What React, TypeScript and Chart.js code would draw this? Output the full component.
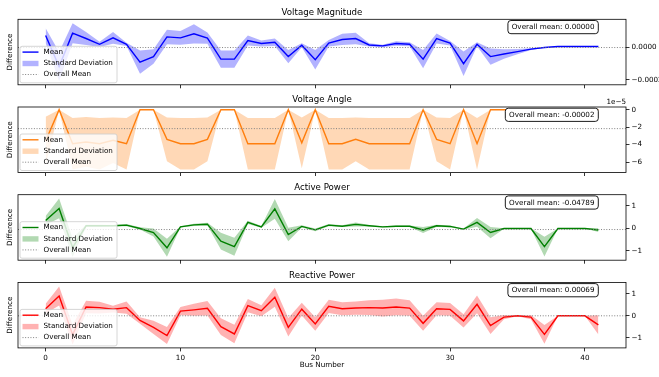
import React, { useEffect, useRef } from 'react';
import { Chart, registerables } from 'chart.js';

Chart.register(...registerables);

const W = 659;
const H = 377;
const FONT = "'DejaVu Sans', sans-serif";

// ---------------- data ----------------
const buses = [0, 1, 2, 3, 4, 5, 6, 7, 8, 9, 10, 11, 12, 13, 14, 15, 16, 17, 18, 19, 20,
  21, 22, 23, 24, 25, 26, 27, 28, 29, 30, 31, 32, 33, 34, 35, 36, 37, 38, 39, 40, 41];

const titles = ['Voltage Magnitude', 'Voltage Angle', 'Active Power', 'Reactive Power'];

const vmMean = [7.4e-5, -1.18e-4, 8.9e-5, 5.6e-5, 2.0e-5, 6.0e-5, 2.0e-5, -9.0e-5, -5.6e-5, 6.6e-5,
  6.0e-5, 8.5e-5, 5.8e-5, -7.2e-5, -7.2e-5, 4.3e-5, 2.5e-5, 3.3e-5, -5.6e-5, 1.4e-5,
  -7.6e-5, 2.7e-5, 5.0e-5, 5.6e-5, 1.6e-5, 1.0e-5, 2.5e-5, 2.0e-5, -7.2e-5, 5.6e-5,
  2.7e-5, -1.0e-4, 2.0e-5, -5.6e-5, -4.0e-5, -2.5e-5, -1.0e-5, 0, 6e-6, 6e-6, 6e-6, 6e-6];
const vmStd = [4.6e-5, 9.0e-5, 6.2e-5, 4.0e-5, 1.6e-5, 3.7e-5, 1.0e-5, 7.2e-5, 4.5e-5, 4.5e-5,
  4.3e-5, 6.0e-5, 3.5e-5, 5.4e-5, 5.4e-5, 3.1e-5, 1.9e-5, 2.3e-5, 4.1e-5, 1.2e-5,
  6.0e-5, 2.0e-5, 3.5e-5, 3.5e-5, 1.0e-5, 8e-6, 1.4e-5, 1.2e-5, 5.6e-5, 3.1e-5,
  1.4e-5, 7.6e-5, 1.2e-5, 5.0e-5, 3.0e-5, 1.6e-5, 6e-6, 2e-6, 2e-6, 2e-6, 2e-6, 2e-6];

const vaMean = [-3.6e-5, 0, -3.9e-5, -3.7e-5, -3.9e-5, -3.5e-5, -3.9e-5, 0, 0, -3.4e-5,
  -3.9e-5, -3.9e-5, -3.4e-5, 0, 0, -3.9e-5, -3.9e-5, -3.9e-5, 0, -3.8e-5,
  0, -3.9e-5, -3.9e-5, -3.4e-5, -3.9e-5, -3.9e-5, -3.9e-5, -3.9e-5, 0, -3.4e-5,
  -3.9e-5, 0, -3.9e-5, 0, 0, 0, 0, 0, 0, 0, 0, 0];
const vaStd = [2.8e-5, 0, 2.95e-5, 2.85e-5, 2.95e-5, 2.6e-5, 2.95e-5, 0, 0, 2.5e-5,
  2.95e-5, 2.95e-5, 2.5e-5, 0, 0, 2.95e-5, 2.95e-5, 2.95e-5, 0, 2.9e-5,
  0, 2.95e-5, 2.95e-5, 2.5e-5, 2.95e-5, 2.95e-5, 2.95e-5, 2.95e-5, 0, 2.5e-5,
  2.95e-5, 0, 2.95e-5, 0, 0, 0, 0, 0, 0, 0, 0, 0];

const apMean = [0.35, 0.89, -0.85, 0.12, 0.12, 0.12, 0.15, 0, -0.18, -0.86,
  0.07, 0.16, 0.19, -0.56, -0.81, 0.27, 0.07, 0.87, -0.27, 0.09,
  -0.06, 0.15, 0.1, 0.18, 0.12, 0.07, 0.1, 0.1, -0.07, 0.12,
  0.09, -0.03, 0.27, -0.18, 0, 0, 0, -0.81, 0, 0, 0, -0.07];
const apStd = [0.2, 0.44, 0.42, 0.05, 0.05, 0.03, 0.05, 0.05, 0.18, 0.4,
  0.03, 0.05, 0.06, 0.37, 0.4, 0.07, 0.04, 0.44, 0.3, 0.05,
  0.06, 0.05, 0.04, 0.09, 0.03, 0.03, 0.03, 0.03, 0.13, 0.05,
  0.04, 0.03, 0.19, 0.25, 0.01, 0.01, 0.01, 0.44, 0, 0, 0, 0.09];

const rpMean = [0.32, 0.9, -0.85, 0.4, 0.37, 0.3, 0.37, -0.21, -0.52, -0.89,
  0.21, 0.27, 0.34, -0.49, -0.82, 0.46, 0.23, 0.84, -0.52, 0.3,
  -0.37, 0.43, 0.32, 0.35, 0.37, 0.35, 0.4, 0.35, -0.34, 0.32,
  0.29, -0.23, 0.52, -0.44, -0.06, 0, -0.06, -0.84, 0, 0, 0, -0.41];
const rpStd = [0.22, 0.43, 0.45, 0.28, 0.27, 0.15, 0.28, 0.15, 0.3, 0.38,
  0.19, 0.27, 0.33, 0.38, 0.42, 0.3, 0.25, 0.43, 0.42, 0.29,
  0.3, 0.3, 0.29, 0.3, 0.33, 0.38, 0.38, 0.35, 0.34, 0.29,
  0.29, 0.3, 0.4, 0.38, 0.1, 0.02, 0.1, 0.42, 0, 0, 0, 0.43];

const overallMeans = [0, -2.17e-5, -0.04789, 0.00069];

const xTicks = [0, 10, 20, 30, 40];
const yTicksVM = [-0.0002, 0];
const yTicksVA = [-6e-5, -4e-5, -2e-5, 0];
const yTicksAP = [-1, 0, 1];
const yTicksRP = [-1, 0, 1];

// ---------------- styling ----------------
const means = [vmMean, vaMean, apMean, rpMean];
const stds = [vmStd, vaStd, apStd, rpStd];
const yTicks = [yTicksVM, yTicksVA, yTicksAP, yTicksRP];
const yMins = [-2.31e-4, -7.2e-5, -1.41, -1.45];
const yMaxs = [1.75e-4, 0.31e-5, 1.5, 1.51];
const tickScale = [1, 1e-5, 1, 1];
const tickDec = [4, 0, 0, 0];
const colors = ['#0000ff', '#ff7f0e', '#008000', '#ff0000'];
const fills = ['rgba(0,0,255,0.3)', 'rgba(255,127,14,0.3)', 'rgba(0,128,0,0.3)', 'rgba(255,0,0,0.3)'];

const PLOT_LEFT = 18;
const Y_AXIS_W = 33;
const PLOT_H = 65.5;
const plotTop = (p: number) => 19.3 + 87.7 * p;

function fmtTick(v: number, p: number) {
  const s = (v / tickScale[p]).toFixed(tickDec[p]);
  const n = parseFloat(s);
  if (n === 0) return (0).toFixed(tickDec[p]);
  return s.replace('-', '\u2212');
}

function roundRect(ctx: CanvasRenderingContext2D, x: number, y: number, w: number, h: number, r: number) {
  ctx.beginPath();
  ctx.moveTo(x + r, y);
  ctx.lineTo(x + w - r, y);
  ctx.arcTo(x + w, y, x + w, y + r, r);
  ctx.lineTo(x + w, y + h - r);
  ctx.arcTo(x + w, y + h, x + w - r, y + h, r);
  ctx.lineTo(x + r, y + h);
  ctx.arcTo(x, y + h, x, y + h - r, r);
  ctx.lineTo(x, y + r);
  ctx.arcTo(x, y, x + r, y, r);
  ctx.closePath();
}

function makeConfig(p: number): any {
  const mean = means[p];
  const std = stds[p];
  const isLast = p === 3;
  const xh = isLast ? 30 : 5;
  const top = plotTop(p);
  const bottom = top + PLOT_H;

  const deco = {
    id: 'deco' + p,
    afterDatasetsDraw(chart: any) {
      const ctx = chart.ctx as CanvasRenderingContext2D;
      const ca = chart.chartArea;
      const y = chart.scales.y.getPixelForValue(overallMeans[p]);
      ctx.save();
      ctx.beginPath();
      ctx.rect(ca.left, ca.top, ca.right - ca.left, ca.bottom - ca.top);
      ctx.clip();
      ctx.strokeStyle = '#808080';
      ctx.lineWidth = 1;
      ctx.setLineDash([1, 1.65]);
      ctx.beginPath();
      ctx.moveTo(ca.left, y);
      ctx.lineTo(ca.right, y);
      ctx.stroke();
      ctx.restore();
    },
    afterDraw(chart: any) {
      const ctx = chart.ctx as CanvasRenderingContext2D;
      const ca = chart.chartArea;
      ctx.save();
      // spines
      ctx.strokeStyle = '#000';
      ctx.lineWidth = 0.8;
      ctx.strokeRect(ca.left, ca.top, ca.right - ca.left, ca.bottom - ca.top);

      // title
      ctx.fillStyle = '#000';
      ctx.textAlign = 'center';
      ctx.textBaseline = 'middle';
      ctx.font = `8.64px ${FONT}`;
      ctx.fillText(titles[p], (ca.left + ca.right) / 2, ca.top - 7);

      // y label
      ctx.font = `7.2px ${FONT}`;
      ctx.save();
      ctx.translate(10, (ca.top + ca.bottom) / 2);
      ctx.rotate(-Math.PI / 2);
      ctx.fillText('Difference', 0, 0);
      ctx.restore();

      // x label
      if (isLast) {
        ctx.fillText('Bus Number', (ca.left + ca.right) / 2, 365.5);
      }

      // offset text for angle panel
      if (p === 1) {
        ctx.textAlign = 'right';
        ctx.fillText('1e\u22125', ca.right, ca.top - 5);
      }

      // legend
      const bw = 97;
      const bh = 36.5;
      const bx = ca.left + 2;
      const by = ca.bottom - 2 - bh;
      roundRect(ctx, bx, by, bw, bh, 2);
      ctx.fillStyle = 'rgba(255,255,255,0.8)';
      ctx.fill();
      ctx.strokeStyle = '#cccccc';
      ctx.lineWidth = 0.8;
      ctx.stroke();
      const rows = [by + 5.8, by + 17.2, by + 28.2];
      const hx0 = bx + 2.5;
      const hx1 = bx + 18.5;
      const tx = bx + 23.5;
      // mean handle
      ctx.strokeStyle = colors[p];
      ctx.lineWidth = 1.4;
      ctx.beginPath();
      ctx.moveTo(hx0, rows[0]);
      ctx.lineTo(hx1, rows[0]);
      ctx.stroke();
      // std handle
      ctx.fillStyle = fills[p];
      ctx.fillRect(hx0, rows[1] - 2.7, hx1 - hx0, 5.4);
      // overall mean handle
      ctx.strokeStyle = '#808080';
      ctx.lineWidth = 1;
      ctx.setLineDash([1, 1.65]);
      ctx.beginPath();
      ctx.moveTo(hx0, rows[2]);
      ctx.lineTo(hx1, rows[2]);
      ctx.stroke();
      ctx.setLineDash([]);
      ctx.fillStyle = '#000';
      ctx.textAlign = 'left';
      ctx.textBaseline = 'middle';
      ctx.font = `7.2px ${FONT}`;
      ctx.fillText('Mean', tx, rows[0]);
      ctx.fillText('Standard Deviation', tx, rows[1]);
      ctx.fillText('Overall Mean', tx, rows[2]);

      // annotation box
      const text = 'Overall mean: ' + overallMeans[p].toFixed(5);
      const tw = ctx.measureText(text).width;
      const padX = 3.8;
      const right = ca.right - 27.7;
      const atop = ca.top + 1.2;
      const ah = 13.2;
      const left = right - tw - 2 * padX;
      roundRect(ctx, left, atop, right - left, ah, 3);
      ctx.fillStyle = '#ffffff';
      ctx.fill();
      ctx.strokeStyle = '#000';
      ctx.lineWidth = 0.9;
      ctx.stroke();
      ctx.fillStyle = '#000';
      ctx.fillText(text, left + padX, atop + ah / 2 + 0.3);
      ctx.restore();
    },
  };

  return {
    type: 'line',
    data: {
      datasets: [
        {
          label: 'Standard Deviation',
          data: buses.map((b, i) => ({ x: b, y: mean[i] + std[i] })),
          borderColor: 'rgba(0,0,0,0)',
          borderWidth: 0,
          pointRadius: 0,
          backgroundColor: fills[p],
          fill: '+1',
          tension: 0,
          order: 3,
        },
        {
          label: 'lower',
          data: buses.map((b, i) => ({ x: b, y: mean[i] - std[i] })),
          borderColor: 'rgba(0,0,0,0)',
          borderWidth: 0,
          pointRadius: 0,
          fill: false,
          tension: 0,
          order: 2,
        },
        {
          label: 'Mean',
          data: buses.map((b, i) => ({ x: b, y: mean[i] })),
          borderColor: colors[p],
          borderWidth: 1.4,
          pointRadius: 0,
          fill: false,
          tension: 0,
          order: 1,
        },
      ],
    },
    options: {
      responsive: false,
      animation: false,
      devicePixelRatio: 1,
      events: [],
      layout: {
        padding: { left: PLOT_LEFT, right: 0, top: top, bottom: H - bottom - xh },
      },
      plugins: {
        legend: { display: false },
        title: { display: false },
        tooltip: { enabled: false },
      },
      scales: {
        x: {
          type: 'linear',
          position: 'bottom',
          min: -2.05,
          max: 43.05,
          afterBuildTicks: (scale: any) => {
            scale.ticks = xTicks.map((v) => ({ value: v }));
          },
          afterFit: (scale: any) => {
            scale.height = xh;
          },
          grid: {
            display: true,
            drawOnChartArea: false,
            drawTicks: true,
            tickLength: 3.5,
            color: '#000',
            lineWidth: 0.8,
          },
          border: { display: false },
          ticks: {
            display: isLast,
            padding: 2,
            color: '#000',
            maxRotation: 0,
            autoSkip: false,
            font: { family: FONT, size: 7.2 },
            callback: (v: any) => String(v),
          },
        },
        y: {
          type: 'linear',
          position: 'right',
          min: yMins[p],
          max: yMaxs[p],
          afterBuildTicks: (scale: any) => {
            scale.ticks = yTicks[p].map((v) => ({ value: v }));
          },
          afterFit: (scale: any) => {
            scale.width = Y_AXIS_W;
          },
          grid: {
            display: true,
            drawOnChartArea: false,
            drawTicks: true,
            tickLength: 3.5,
            color: '#000',
            lineWidth: 0.8,
          },
          border: { display: false },
          ticks: {
            padding: 2,
            color: '#000',
            autoSkip: false,
            font: { family: FONT, size: 7.2 },
            callback: (v: any) => fmtTick(Number(v), p),
          },
        },
      },
    },
    plugins: [deco],
  };
}

function Panel({ p }: { p: number }) {
  const ref = useRef<HTMLCanvasElement>(null);
  useEffect(() => {
    const chart = new Chart(ref.current as HTMLCanvasElement, makeConfig(p));
    return () => chart.destroy();
  }, [p]);
  return (
    <canvas
      ref={ref}
      width={W}
      height={H}
      style={{ position: 'absolute', left: 0, top: 0, width: W, height: H }}
    />
  );
}

export default function App() {
  return (
    <div
      style={{
        position: 'absolute',
        left: 0,
        top: 0,
        width: W,
        height: H,
        background: '#ffffff',
        overflow: 'hidden',
      }}
    >
      {[0, 1, 2, 3].map((p) => (
        <Panel key={p} p={p} />
      ))}
    </div>
  );
}
